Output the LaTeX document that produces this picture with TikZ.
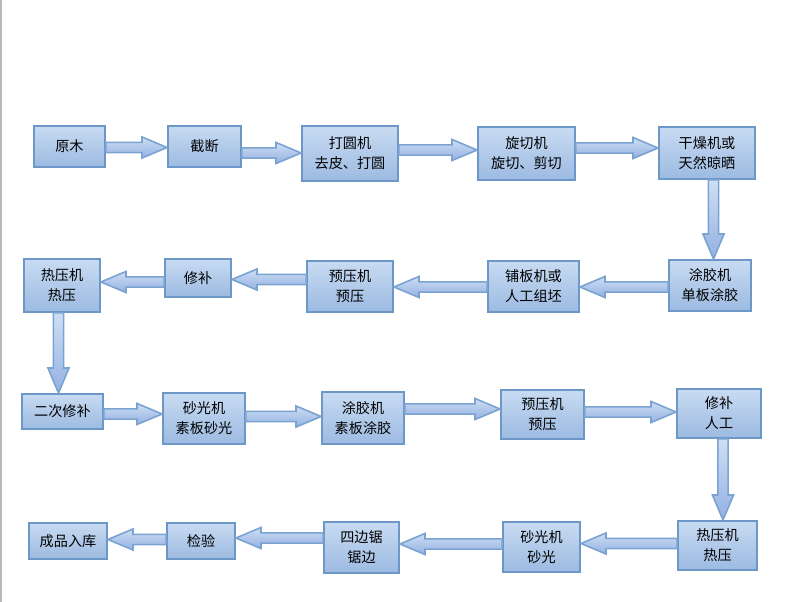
\documentclass[tikz,border=0pt]{standalone}
\usepackage{fontspec}
\newfontfamily\cjk{Noto Sans CJK SC}
\usetikzlibrary{calc}
\definecolor{boxtop}{HTML}{C8DBF2}
\definecolor{boxbot}{HTML}{9CBAE1}
\definecolor{boxline}{HTML}{6D97C6}
\definecolor{flowline}{HTML}{7BA3D1}
\newcommand{\flowsw}{3.8pt}
\newcommand{\flowhw}{7.9pt}
\newcommand{\flowhl}{18.8pt}
\newcommand{\hflow}[3]{%
  \filldraw[flow] let \p1=(#1 |- 0,#3), \p2=(#2 |- 0,#3), \n1={sign(\x2-\x1)} in
    (\x1,\y1+\flowsw) -- ({\x2-\n1*\flowhl},\y1+\flowsw) -- ({\x2-\n1*\flowhl},\y1+\flowhw) -- (\x2,\y1)
    -- ({\x2-\n1*\flowhl},\y1-\flowhw) -- ({\x2-\n1*\flowhl},\y1-\flowsw) -- (\x1,\y1-\flowsw) -- cycle;}
\newcommand{\vflow}[3]{%
  \filldraw[flow] let \p1=(#1 -| #3,0), \p2=(#2 -| #3,0), \n1={sign(\y2-\y1)} in
    (\x1+\flowsw,\y1) -- (\x1+\flowsw,{\y2-\n1*\flowhl}) -- (\x1+\flowhw,{\y2-\n1*\flowhl}) -- (\x1,\y2)
    -- (\x1-\flowhw,{\y2-\n1*\flowhl}) -- (\x1-\flowsw,{\y2-\n1*\flowhl}) -- (\x1-\flowsw,\y1) -- cycle;}
\begin{document}
\begin{tikzpicture}[x=0.75pt,y=-0.75pt]
    \tikzstyle{etape}=[draw=boxline,line width=1.4pt,top color=boxtop,bottom color=boxbot,
      inner sep=0pt,align=center,font=\cjk\fontsize{10.6}{15}\selectfont]
    \tikzstyle{flow}=[draw=flowline,line width=1.2pt,top color=boxtop!90!white,bottom color=boxbot!95!blue]
    \useasboundingbox (0,0) rectangle (793,602);
    \draw[black!28,line width=1.5pt] (1,0) -- (1,602);
    \node[etape,minimum width=71pt*0.75,minimum height=41pt*0.75] (1) at (69.5,146.5) {原木};
    \node[etape,minimum width=73pt*0.75,minimum height=41pt*0.75] (2) at (204.5,146.5) {截断};
    \node[etape,minimum width=96pt*0.75,minimum height=55pt*0.75] (3) at (350,153.5) {打圆机\\去皮、打圆};
    \node[etape,minimum width=97pt*0.75,minimum height=53pt*0.75] (4) at (526.5,153.5) {旋切机\\旋切、剪切};
    \node[etape,minimum width=96pt*0.75,minimum height=52pt*0.75] (5) at (707,153) {干燥机或\\天然晾晒};
    \node[etape,minimum width=82pt*0.75,minimum height=51pt*0.75] (6) at (710,285.5) {涂胶机\\单板涂胶};
    \node[etape,minimum width=91pt*0.75,minimum height=51pt*0.75] (7) at (533.5,286.5) {铺板机或\\人工组坯};
    \node[etape,minimum width=86pt*0.75,minimum height=51pt*0.75] (8) at (350,286.5) {预压机\\预压};
    \node[etape,minimum width=66pt*0.75,minimum height=38pt*0.75] (9) at (198,278) {修补};
    \node[etape,minimum width=76pt*0.75,minimum height=53pt*0.75] (10) at (62,285.5) {热压机\\热压};
    \node[etape,minimum width=81pt*0.75,minimum height=35pt*0.75] (11) at (62.5,411.5) {二次修补};
    \node[etape,minimum width=82pt*0.75,minimum height=51pt*0.75] (12) at (204,418.5) {砂光机\\素板砂光};
    \node[etape,minimum width=82pt*0.75,minimum height=52pt*0.75] (13) at (363,418) {涂胶机\\素板涂胶};
    \node[etape,minimum width=83pt*0.75,minimum height=49pt*0.75] (14) at (542.5,414.5) {预压机\\预压};
    \node[etape,minimum width=84pt*0.75,minimum height=49pt*0.75] (15) at (719,413.5) {修补\\人工};
    \node[etape,minimum width=79pt*0.75,minimum height=49pt*0.75] (16) at (717.5,545.5) {热压机\\热压};
    \node[etape,minimum width=77pt*0.75,minimum height=50pt*0.75] (17) at (541.5,547) {砂光机\\砂光};
    \node[etape,minimum width=75pt*0.75,minimum height=51pt*0.75] (18) at (361.5,547.5) {四边锯\\锯边};
    \node[etape,minimum width=68pt*0.75,minimum height=36pt*0.75] (19) at (201,541) {检验};
    \node[etape,minimum width=78pt*0.75,minimum height=36pt*0.75] (20) at (68,541) {成品入库};
    \hflow{1.east}{2.west}{147.5}
    \hflow{2.east}{3.west}{153}
    \hflow{3.east}{4.west}{150}
    \hflow{4.east}{5.west}{148}
    \vflow{5.south}{6.north}{713.5}
    \hflow{6.west}{7.east}{287}
    \hflow{7.west}{8.east}{287}
    \hflow{8.west}{9.east}{279.5}
    \hflow{9.west}{10.east}{282}
    \vflow{10.south}{11.north}{58.5}
    \hflow{11.east}{12.west}{414}
    \hflow{12.east}{13.west}{416.5}
    \hflow{13.east}{14.west}{409}
    \hflow{14.east}{15.west}{412}
    \vflow{15.south}{16.north}{723}
    \hflow{16.west}{17.east}{543.5}
    \hflow{17.west}{18.east}{544}
    \hflow{18.west}{19.east}{538}
    \hflow{19.west}{20.east}{539.5}
\end{tikzpicture}
\end{document}
